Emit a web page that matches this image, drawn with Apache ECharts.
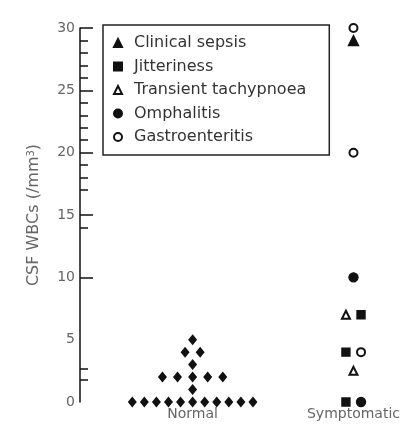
<!DOCTYPE html>
<html><head><meta charset="utf-8">
<script src="https://cdn.jsdelivr.net/npm/echarts@6/dist/echarts.min.js"></script>
<style>html,body{margin:0;padding:0;background:#fff}#c{width:403px;height:430px}</style>
</head><body><div id="c"></div>
<script>
// ---- data ----
const groups = ['Normal', 'Symptomatic'];
const normalValues = [0,0,0,0,0,0,0,0,0,0,0,1,2,2,2,2,2,3,4,4,5];
const conditions = ['Clinical sepsis','Jitteriness','Transient tachypnoea','Omphalitis','Gastroenteritis'];
const sepsisValues = [29];
const jitterinessValues = [7,4,0];
const tachypnoeaValues = [7,2.5];
const omphalitisValues = [10,0];
const gastroenteritisValues = [30,20,4];
const yLabelValues = [0,5,10,15,20,25,30];
const majorTickValues = [10,15,20,25,30];
const minorTickValues = [1.8,2.7,14,17,18,19,21,22,23,24,26,27,28,29];

// ---- dot-plot layout (side-by-side spreading of equal values) ----
const SLOT = 0.075;
function spread(entries, spacingFor) {
  const byVal = new Map();
  entries.forEach(e => { if (!byVal.has(e.v)) byVal.set(e.v, []); byVal.get(e.v).push(e); });
  byVal.forEach(arr => {
    const n = arr.length, s = spacingFor(n);
    arr.forEach((e, i) => { e.off = (i - (n - 1) / 2) * s * SLOT; });
  });
  return entries;
}
const normalEntries = spread(normalValues.map(v => ({v, g: 0})), n => n > 6 ? 1 : 1.25);
const symValues = {
  'Transient tachypnoea': tachypnoeaValues,
  'Jitteriness': jitterinessValues,
  'Omphalitis': omphalitisValues,
  'Gastroenteritis': gastroenteritisValues,
  'Clinical sepsis': sepsisValues
};
const symEntries = [];
Object.keys(symValues).forEach(k => symValues[k].forEach(v => symEntries.push({v, g: 1, k})));
spread(symEntries, n => 1.25);

const symStyle = {
  'Clinical sepsis': {symbol: 'triangle', symbolSize: 10},
  'Jitteriness': {symbol: 'rect', symbolSize: 8},
  'Transient tachypnoea': {symbol: 'emptyTriangle', symbolSize: 8},
  'Omphalitis': {symbol: 'circle', symbolSize: 9},
  'Gastroenteritis': {symbol: 'emptyCircle', symbolSize: 8}
};
const INK = '#111';
const FONT = 'DejaVu Sans';

const series = [{
  name: 'Normal', type: 'scatter', symbol: 'diamond', symbolSize: [9, 11],
  itemStyle: {color: INK, opacity: 1}, silent: true,
  data: normalEntries.map(e => [e.g + e.off, e.v])
}];
conditions.forEach(c => {
  series.push({
    name: c, type: 'scatter', symbol: symStyle[c].symbol, symbolSize: symStyle[c].symbolSize,
    itemStyle: {color: INK, borderColor: INK, borderWidth: 1.4, opacity: 1},
    data: symEntries.filter(e => e.k === c).map(e => [e.g + e.off, e.v])
  });
});

const chart = echarts.init(document.getElementById('c'), null, {renderer: 'canvas'});
chart.setOption({
  animation: false,
  backgroundColor: '#fff',
  grid: {left: 80, right: 0, top: 28, bottom: 28},
  legend: {
    data: conditions, orient: 'vertical', left: 103, top: 25,
    padding: [10, 23, 10, 10], itemGap: 7.5, itemWidth: 8, itemHeight: 8,
    borderColor: '#222', borderWidth: 1.5,
    textStyle: {fontFamily: FONT, fontSize: 16, color: '#333', padding: [0, 0, 0, 7]},
    selectedMode: false
  },
  xAxis: {
    type: 'value', min: -0.7, max: 1.25,
    axisLine: {show: false}, axisTick: {show: false}, splitLine: {show: false},
    axisLabel: {
      customValues: [0, 1], formatter: v => groups[Math.round(v)],
      fontFamily: FONT, fontSize: 14, color: '#666', margin: 5
    }
  },
  yAxis: [{
    type: 'value', min: 0, max: 30, interval: 5,
    name: 'CSF WBCs (/mm{sup|3})', nameLocation: 'middle', nameGap: 38,
    nameTextStyle: {fontFamily: FONT, fontSize: 16, color: '#666',
      rich: {sup: {fontFamily: FONT, fontSize: 10, color: '#666', verticalAlign: 'top', padding: [0, 0, 6, 0]}}},
    axisLine: {show: true, onZero: false, lineStyle: {color: INK, width: 1.5}},
    axisTick: {show: true, inside: true, length: 13, customValues: majorTickValues, lineStyle: {color: INK, width: 1.5}},
    axisLabel: {customValues: yLabelValues, fontFamily: FONT, fontSize: 14, color: '#666', margin: 5},
    splitLine: {show: false}
  }, {
    type: 'value', min: 0, max: 30, position: 'left', offset: 0,
    axisLine: {show: false, onZero: false},
    axisTick: {show: true, inside: true, length: 8, customValues: minorTickValues, lineStyle: {color: INK, width: 1.5}},
    axisLabel: {show: false}, splitLine: {show: false}
  }],
  series: series
});
</script></body></html>
